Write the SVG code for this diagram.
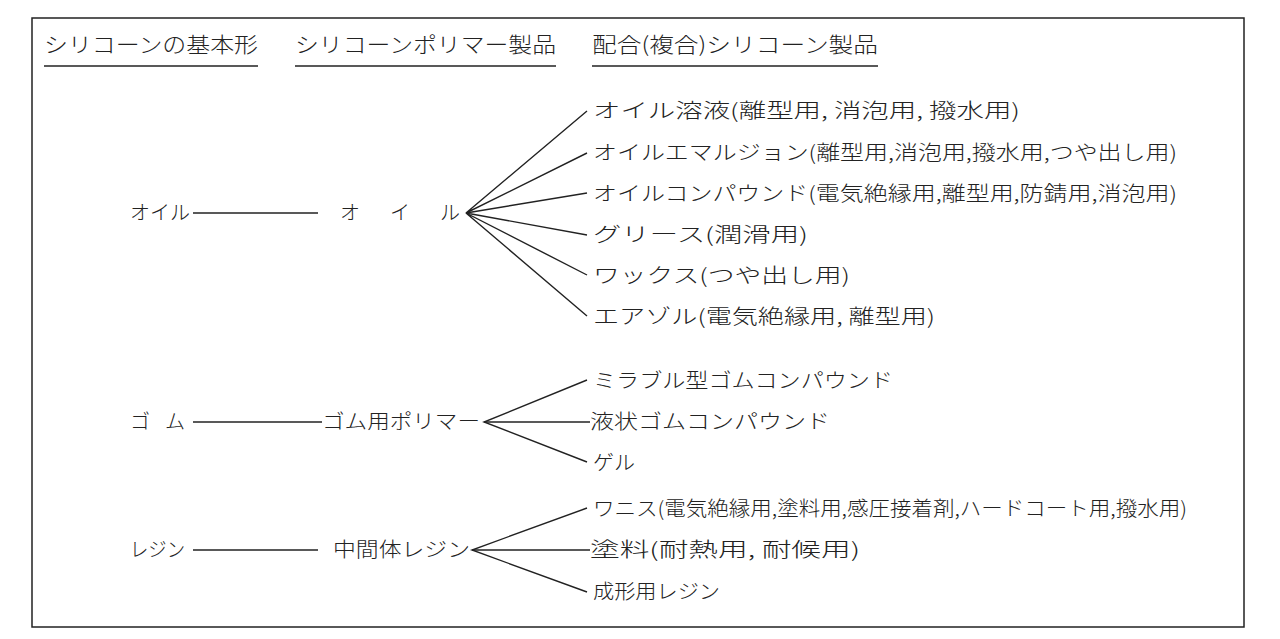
<svg xmlns="http://www.w3.org/2000/svg" width="1280" height="639" viewBox="0 0 1280 639">
<style>
text{font-family:"Noto Sans CJK JP","Noto Sans CJK SC",sans-serif;font-size:20px;fill:#222;font-weight:300}
.h{font-size:21px}
line,polyline{stroke:#222;stroke-width:1.4;fill:none}
</style>
<rect x="0" y="0" width="1280" height="639" fill="#fff"/>
<rect x="32" y="18" width="1212" height="609" fill="none" stroke="#222" stroke-width="1.5"/>
<g id="headers">
<text class="h" x="44" y="52" textLength="214" lengthAdjust="spacingAndGlyphs">シリコーンの基本形</text>
<line x1="44" y1="66" x2="258" y2="66"/>
<text class="h" x="295" y="52" textLength="261" lengthAdjust="spacingAndGlyphs">シリコーンポリマー製品</text>
<line x1="295" y1="66" x2="556" y2="66"/>
<text class="h" x="592" y="52" textLength="286" lengthAdjust="spacingAndGlyphs">配合(複合)シリコーン製品</text>
<line x1="592" y1="66" x2="878" y2="66"/>
</g>
<g id="connectors">
<line x1="193" y1="213" x2="318" y2="213"/>
<polyline points="587,111 466,213 587,153"/>
<polyline points="587,193 466,213 587,235"/>
<polyline points="587,275 466,213 587,316"/>
<line x1="193" y1="422" x2="322" y2="422"/>
<polyline points="587,380 484,422 587,462"/>
<line x1="484" y1="422" x2="590" y2="422"/>
<line x1="193" y1="550" x2="318" y2="550"/>
<polyline points="587,508 472,550 587,592"/>
<line x1="472" y1="550" x2="590" y2="550"/>
</g>
<g id="oil">
<text x="130" y="220" textLength="60" lengthAdjust="spacingAndGlyphs">オイル</text>
<text x="340" y="220" textLength="120" lengthAdjust="spacing">オイル</text>
</g>
<g id="rubber">
<text x="130" y="429" textLength="55" lengthAdjust="spacing">ゴム</text>
<text x="322" y="429" textLength="158" lengthAdjust="spacingAndGlyphs">ゴム用ポリマー</text>
</g>
<g id="resin">
<text x="130" y="557" textLength="55" lengthAdjust="spacingAndGlyphs">レジン</text>
<text x="333" y="557" textLength="137" lengthAdjust="spacingAndGlyphs">中間体レジン</text>
</g>
<g id="products">
<text x="593" y="118" textLength="427" lengthAdjust="spacingAndGlyphs">オイル溶液(離型用, 消泡用, 撥水用)</text>
<text x="593" y="160" textLength="584" lengthAdjust="spacingAndGlyphs">オイルエマルジョン(離型用,消泡用,撥水用,つや出し用)</text>
<text x="593" y="201" textLength="584" lengthAdjust="spacingAndGlyphs">オイルコンパウンド(電気絶縁用,離型用,防錆用,消泡用)</text>
<text x="593" y="242" textLength="215" lengthAdjust="spacingAndGlyphs">グリース(潤滑用)</text>
<text x="593" y="283" textLength="257" lengthAdjust="spacingAndGlyphs">ワックス(つや出し用)</text>
<text x="593" y="324" textLength="342" lengthAdjust="spacingAndGlyphs">エアゾル(電気絶縁用, 離型用)</text>
<text x="593" y="388" textLength="300" lengthAdjust="spacingAndGlyphs">ミラブル型ゴムコンパウンド</text>
<text x="590" y="429" textLength="240" lengthAdjust="spacingAndGlyphs">液状ゴムコンパウンド</text>
<text x="593" y="470" textLength="42" lengthAdjust="spacingAndGlyphs">ゲル</text>
<text x="593" y="516" textLength="594" lengthAdjust="spacingAndGlyphs">ワニス(電気絶縁用,塗料用,感圧接着剤,ハードコート用,撥水用)</text>
<text x="590" y="557" textLength="270" lengthAdjust="spacingAndGlyphs">塗料(耐熱用, 耐候用)</text>
<text x="593" y="599" textLength="127" lengthAdjust="spacingAndGlyphs">成形用レジン</text>
</g>
</svg>
